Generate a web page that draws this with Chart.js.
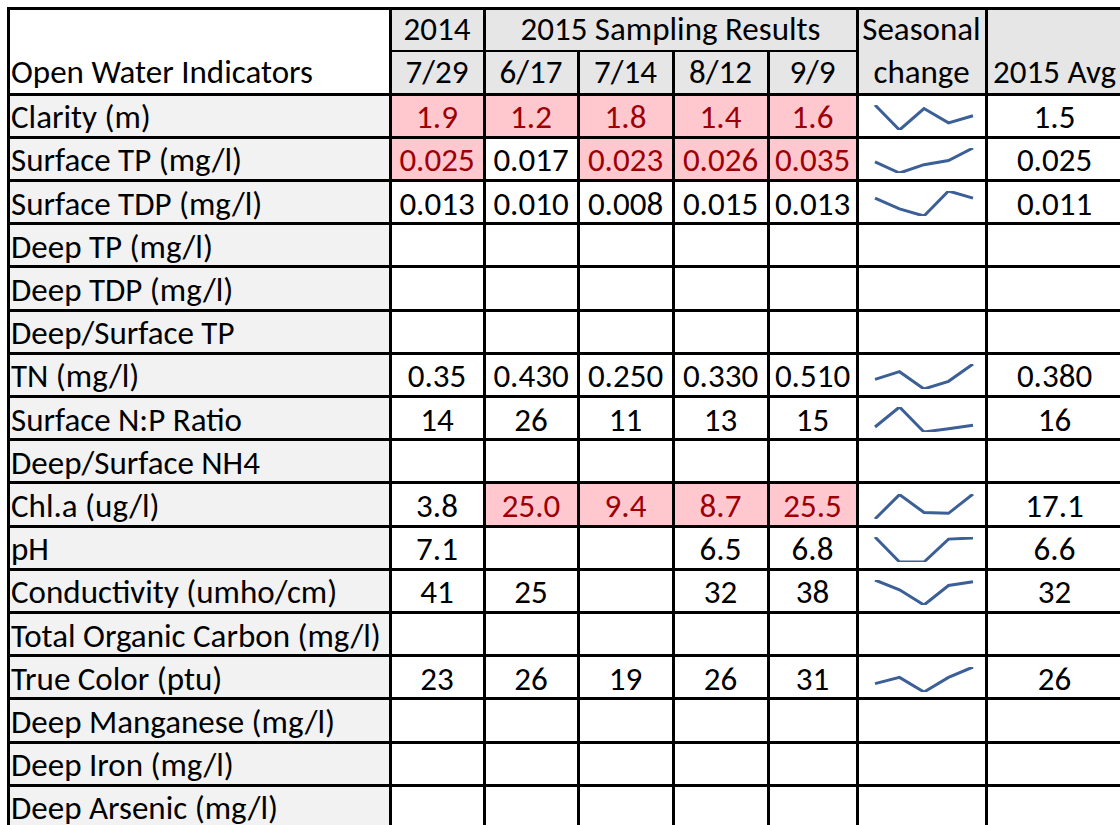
<!DOCTYPE html>
<html>
<head>
<meta charset="utf-8">
<script src="https://cdn.jsdelivr.net/npm/chart.js@4.4.1/dist/chart.umd.min.js"></script>
<style>
  html, body { margin: 0; padding: 0; width: 1120px; height: 825px; overflow: hidden; background: #ffffff; }
  #sheet { position: relative; width: 1120px; height: 825px; overflow: hidden; font-family: Carlito, Lato, sans-serif; font-size: 33px; color: #000; }
  .cell { position: absolute; box-sizing: border-box; display: flex; align-items: flex-end; justify-content: center; line-height: 1; padding-bottom: 5px; white-space: nowrap; }
  .cell.body { padding-bottom: 3px; }
  .cell.left { justify-content: flex-start; padding-left: 3px; }
  .cell.flag { background: #ffc7ce; color: #9c0006; }
  .line { position: absolute; background: #000; }
  .spark { position: absolute; }
</style>
</head>
<body>
<div id="sheet"></div>
<script>
let indicators = [
  "Clarity (m)", "Surface TP (mg/l)", "Surface TDP (mg/l)", "Deep TP (mg/l)", "Deep TDP (mg/l)",
  "Deep/Surface TP", "TN (mg/l)", "Surface N:P Ratio", "Deep/Surface NH4", "Chl.a (ug/l)", "pH",
  "Conductivity (umho/cm)", "Total Organic Carbon (mg/l)", "True Color (ptu)",
  "Deep Manganese (mg/l)", "Deep Iron (mg/l)", "Deep Arsenic (mg/l)"
];
let sampleDates = ["7/29", "6/17", "7/14", "8/12", "9/9"];
let values2014_0729 = [1.9, 0.025, 0.013, null, null, null, 0.35, 14, null, 3.8, 7.1, 41, null, 23, null, null, null];
let values2015_0617 = [1.2, 0.017, 0.010, null, null, null, 0.430, 26, null, 25.0, null, 25, null, 26, null, null, null];
let values2015_0714 = [1.8, 0.023, 0.008, null, null, null, 0.250, 11, null, 9.4, null, null, null, 19, null, null, null];
let values2015_0812 = [1.4, 0.026, 0.015, null, null, null, 0.330, 13, null, 8.7, 6.5, 32, null, 26, null, null, null];
let values2015_0909 = [1.6, 0.035, 0.013, null, null, null, 0.510, 15, null, 25.5, 6.8, 38, null, 31, null, null, null];
let avg2015 = [1.5, 0.025, 0.011, null, null, null, 0.380, 16, null, 17.1, 6.6, 32, null, 26, null, null, null];
// decimals shown per row (2014 TN was written with two)
let digits = [1, 3, 3, 3, 3, 2, 3, 0, 2, 1, 1, 0, 1, 0, 3, 3, 3];
let digits2014 = [1, 3, 3, 3, 3, 2, 2, 0, 2, 1, 1, 0, 1, 0, 3, 3, 3];
// cells with the red conditional fill: row index -> sample column indexes
let flagged = { 0: [0, 1, 2, 3, 4], 1: [0, 2, 3, 4], 9: [1, 2, 3, 4] };

let samples = [values2014_0729, values2015_0617, values2015_0714, values2015_0812, values2015_0909];

//grid geometry
const colX = [8, 390, 484, 578, 673, 768, 857, 986, 1123];
const headTop = 8, headMid = 51, headBottom = 94, rowH = 43.2;
const headGray = "#e6e6e6", labelGray = "#f2f2f2";
const sheet = document.getElementById("sheet");

function addCell(x0, y0, x1, y1, text, bg, cls) {
  let el = document.createElement("div");
  el.className = "cell" + (cls ? " " + cls : "");
  el.style.left = x0 + "px";
  el.style.top = y0 + "px";
  el.style.width = x1 - x0 + "px";
  el.style.height = y1 - y0 + "px";
  if (bg) el.style.background = bg;
  el.textContent = text;
  sheet.appendChild(el);
  return el;
}
function addLine(x0, y0, x1, y1, w) {
  let el = document.createElement("div");
  el.className = "line";
  el.style.left = x0 - w / 2 + "px";
  el.style.top = y0 - w / 2 + "px";
  el.style.width = (x0 === x1 ? 0 : x1 - x0) + w + "px";
  el.style.height = (y0 === y1 ? 0 : y1 - y0) + w + "px";
  sheet.appendChild(el);
}

//header
addCell(colX[0], headTop, colX[1], headBottom, "Open Water Indicators", "#ffffff", "left");
addCell(colX[1], headTop, colX[2], headMid, "2014", headGray);
addCell(colX[2], headTop, colX[6], headMid, "2015 Sampling Results", headGray);
sampleDates.forEach((d, i) => addCell(colX[i + 1], headMid, colX[i + 2], headBottom, d, headGray));
addCell(colX[6], headTop, colX[7], headBottom, "", headGray);
addCell(colX[6], headTop, colX[7], headMid, "Seasonal");
addCell(colX[6], headMid, colX[7], headBottom, "change");
addCell(colX[7], headTop, colX[8], headBottom, "2015 Avg", headGray);

//body
let rowTop = (r) => headBottom + r * rowH;
indicators.forEach((name, r) => {
  let y0 = rowTop(r), y1 = rowTop(r + 1);
  addCell(colX[0], y0, colX[1], y1, name, labelGray, "body left");
  samples.forEach((series, c) => {
    let v = series[r];
    let txt = v === null ? "" : v.toFixed(c === 0 ? digits2014[r] : digits[r]);
    let isFlag = flagged[r] && flagged[r].includes(c);
    addCell(colX[c + 1], y0, colX[c + 2], y1, txt, isFlag ? null : "#ffffff", isFlag ? "body flag" : "body");
  });
  addCell(colX[6], y0, colX[7], y1, "", "#ffffff");
  addCell(colX[7], y0, colX[8], y1, avg2015[r] === null ? "" : avg2015[r].toFixed(digits[r]), "#ffffff", "body");
});

//grid lines
const lw = 3;
const tableBottom = rowTop(indicators.length);
addLine(colX[0], headTop, colX[8], headTop, lw);
addLine(colX[1], headMid, colX[6], headMid, 2);
[colX[0], colX[1], colX[2], colX[6], colX[7], colX[8]].forEach((x) => addLine(x, headTop, x, tableBottom, lw));
[colX[3], colX[4], colX[5]].forEach((x) => addLine(x, headMid, x, tableBottom, lw));
for (let r = 0; r <= indicators.length; r++) addLine(colX[0], rowTop(r), colX[8], rowTop(r), lw);

//sparklines (empty cells plotted as zero, like the sheet does)
indicators.forEach((name, r) => {
  let pts = samples.map((s) => s[r]);
  if (pts.every((v) => v === null)) return;
  pts = pts.map((v) => (v === null ? 0 : v));
  let canvas = document.createElement("canvas");
  canvas.className = "spark";
  let w = colX[7] - colX[6], h = Math.round(rowH);
  canvas.width = w;
  canvas.height = h;
  canvas.style.left = colX[6] + "px";
  canvas.style.top = rowTop(r) + "px";
  sheet.appendChild(canvas);
  new Chart(canvas.getContext("2d"), {
    type: "line",
    data: {
      labels: sampleDates,
      datasets: [
        {
          data: pts,
          borderColor: "#3b5f96",
          borderWidth: 3,
          pointRadius: 0,
          tension: 0,
          fill: false,
        },
      ],
    },
    options: {
      responsive: false,
      animation: false,
      layout: { padding: { left: 18, right: 13, top: 11, bottom: 7 } },
      scales: {
        x: { display: false, offset: false },
        y: { display: false, min: Math.min(...pts), max: Math.max(...pts) },
      },
      plugins: { legend: { display: false }, tooltip: { enabled: false } },
    },
  });
});
</script>
</body>
</html>
